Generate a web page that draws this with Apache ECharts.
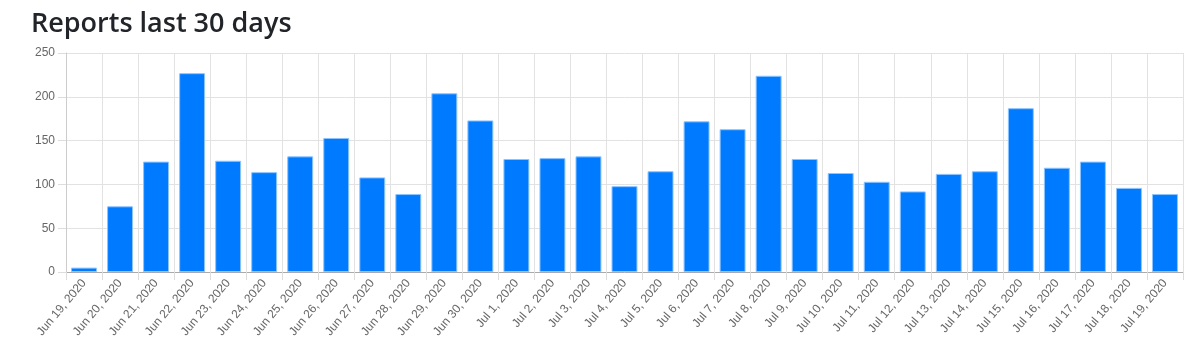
<!DOCTYPE html>
<html>
<head>
<meta charset="utf-8">
<script src="https://cdn.jsdelivr.net/npm/echarts@6/dist/echarts.min.js"></script>
<style>
  html, body { margin: 0; padding: 0; background: #fff; }
  #chart { width: 1200px; height: 357px; }
</style>
</head>
<body>
<div id="chart"></div>
<script>
// Daily report counts
const days = [
  'Jun 19, 2020', 'Jun 20, 2020', 'Jun 21, 2020', 'Jun 22, 2020', 'Jun 23, 2020',
  'Jun 24, 2020', 'Jun 25, 2020', 'Jun 26, 2020', 'Jun 27, 2020', 'Jun 28, 2020',
  'Jun 29, 2020', 'Jun 30, 2020', 'Jul 1, 2020', 'Jul 2, 2020', 'Jul 3, 2020',
  'Jul 4, 2020', 'Jul 5, 2020', 'Jul 6, 2020', 'Jul 7, 2020', 'Jul 8, 2020',
  'Jul 9, 2020', 'Jul 10, 2020', 'Jul 11, 2020', 'Jul 12, 2020', 'Jul 13, 2020',
  'Jul 14, 2020', 'Jul 15, 2020', 'Jul 16, 2020', 'Jul 17, 2020', 'Jul 18, 2020',
  'Jul 19, 2020'
];
const reports = [
  5, 75, 126, 227, 127, 114, 132, 153, 108, 89,
  204, 173, 129, 130, 132, 98, 115, 172, 163, 224,
  129, 113, 103, 92, 112, 115, 187, 119, 126, 96,
  89
];
const yTicks = { min: 0, max: 250, step: 50 };

const chart = echarts.init(document.getElementById('chart'), null, { renderer: 'canvas' });
const tickFont = { fontFamily: '"Liberation Sans", Arial, sans-serif', fontSize: 12, color: '#666' };

chart.setOption({
  animation: false,
  title: {
    text: 'Reports last 30 days',
    left: 26,
    top: 6,
    textStyle: {
      fontFamily: '"Open Sans", "Noto Sans", sans-serif',
      fontSize: 27,
      fontWeight: 600,
      color: '#212529'
    }
  },
  grid: { left: 66, right: 17, top: 53, bottom: 85, containLabel: false },
  xAxis: {
    type: 'category',
    data: days,
    boundaryGap: true,
    axisLine: { show: true, lineStyle: { color: '#aaa', width: 1 } },
    axisTick: { show: true, alignWithLabel: false, length: 8, lineStyle: { color: '#ddd' } },
    splitLine: { show: true, lineStyle: { color: '#e2e2e2', width: 1 } },
    axisLabel: Object.assign({ rotate: 50, interval: 0, margin: 9 }, tickFont)
  },
  yAxis: {
    type: 'value',
    min: yTicks.min,
    max: yTicks.max,
    interval: yTicks.step,
    axisLine: { show: true, lineStyle: { color: '#ccc', width: 1 } },
    axisTick: { show: true, length: 8, lineStyle: { color: '#ddd' } },
    splitLine: { show: true, lineStyle: { color: '#e2e2e2', width: 1 } },
    axisLabel: Object.assign({ margin: 11 }, tickFont)
  },
  series: [{
    type: 'bar',
    data: reports,
    barWidth: '72%',
    itemStyle: {
      color: '#007bff',
      borderColor: '#8cc4ff',
      borderWidth: 1
    }
  }]
});
</script>
</body>
</html>
